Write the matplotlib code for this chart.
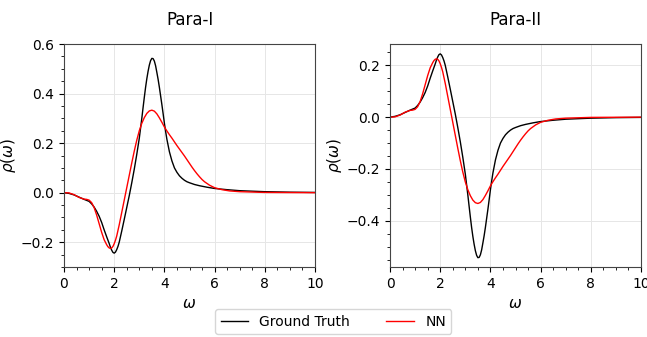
import matplotlib
matplotlib.use("Agg")
from matplotlib import pyplot as plt

# values
w_gt = [0.0, 0.2, 0.4, 0.6, 0.8, 1.0, 1.1, 1.2, 1.3, 1.4, 1.5, 1.6, 1.7, 1.8,
        1.85, 1.9, 1.95, 2.0, 2.05, 2.1, 2.15, 2.2, 2.3, 2.4, 2.5, 2.6, 2.7,
        2.8, 2.9, 3.0, 3.1, 3.15, 3.2, 3.25, 3.3, 3.35, 3.4, 3.45, 3.5, 3.55,
        3.6, 3.65, 3.7, 3.75, 3.8, 3.85, 3.9, 3.95, 4.0, 4.05, 4.1, 4.2, 4.3,
        4.4, 4.5, 4.6, 4.7, 4.8, 4.9, 5.0, 5.2, 5.4, 5.7, 6.0, 6.5, 7.0, 8.0,
        9.0, 10.0]
gt_1 = [0.0, -0.003, -0.009, -0.018, -0.027, -0.035, -0.045, -0.058, -0.075,
        -0.095, -0.12, -0.15, -0.178, -0.205, -0.22, -0.232, -0.241, -0.244,
        -0.24, -0.23, -0.217, -0.2, -0.155, -0.108, -0.06, -0.012, 0.04, 0.095,
        0.155, 0.22, 0.3, 0.343, 0.385, 0.425, 0.46, 0.49, 0.515, 0.533, 0.542,
        0.541, 0.531, 0.512, 0.485, 0.457, 0.425, 0.39, 0.355, 0.318, 0.28,
        0.246, 0.215, 0.165, 0.128, 0.1, 0.082, 0.068, 0.058, 0.05, 0.044,
        0.04, 0.033, 0.028, 0.022, 0.017, 0.012, 0.008, 0.004, 0.002, 0.001]
gt_2 = [0.0, 0.003, 0.009, 0.018, 0.027, 0.035, 0.045, 0.058, 0.075,
        0.095, 0.12, 0.15, 0.178, 0.205, 0.22, 0.232, 0.241, 0.244,
        0.24, 0.23, 0.217, 0.2, 0.155, 0.108, 0.06, 0.012, -0.04, -0.095,
        -0.155, -0.22, -0.3, -0.343, -0.385, -0.425, -0.46, -0.49, -0.515,
        -0.533, -0.542, -0.541, -0.531, -0.512, -0.485, -0.457, -0.425, -0.39,
        -0.355, -0.318, -0.28, -0.246, -0.215, -0.165, -0.128, -0.1, -0.082,
        -0.068, -0.058, -0.05, -0.044, -0.04, -0.033, -0.028, -0.022, -0.017,
        -0.012, -0.008, -0.004, -0.002, -0.001]

w_nn = [0.0, 0.2, 0.4, 0.6, 0.8, 0.9, 1.0, 1.1, 1.2, 1.3, 1.4, 1.5, 1.6, 1.7,
        1.75, 1.8, 1.85, 1.9, 1.95, 2.0, 2.05, 2.1, 2.2, 2.3, 2.4, 2.5, 2.6,
        2.7, 2.8, 2.9, 3.0, 3.1, 3.2, 3.3, 3.4, 3.5, 3.6, 3.7, 3.8, 3.9, 4.0,
        4.1, 4.2, 4.3, 4.4, 4.5, 4.6, 4.7, 4.8, 4.9, 5.0, 5.1, 5.2, 5.3, 5.4,
        5.5, 5.6, 5.8, 6.0, 6.3, 6.6, 7.0, 8.0, 10.0]
nn_1 = [0.0, -0.001, -0.008, -0.019, -0.026, -0.027, -0.03, -0.04, -0.06,
        -0.09, -0.125, -0.16, -0.19, -0.21, -0.218, -0.223, -0.225, -0.223,
        -0.217, -0.206, -0.192, -0.175, -0.13, -0.08, -0.03, 0.02, 0.07, 0.12,
        0.168, 0.212, 0.25, 0.28, 0.303, 0.32, 0.33, 0.333, 0.329, 0.318,
        0.302, 0.284, 0.265, 0.249, 0.234, 0.22, 0.205, 0.19, 0.176, 0.162,
        0.148, 0.133, 0.118, 0.103, 0.089, 0.076, 0.064, 0.053, 0.044, 0.03,
        0.02, 0.012, 0.007, 0.004, 0.001, 0.0]
nn_2 = [0.0, 0.001, 0.008, 0.019, 0.026, 0.027, 0.03, 0.04, 0.06,
        0.09, 0.125, 0.16, 0.19, 0.21, 0.218, 0.223, 0.225, 0.223,
        0.217, 0.206, 0.192, 0.175, 0.13, 0.08, 0.03, -0.02, -0.07, -0.12,
        -0.168, -0.212, -0.25, -0.28, -0.303, -0.32, -0.33, -0.333, -0.329,
        -0.318, -0.302, -0.284, -0.265, -0.249, -0.234, -0.22, -0.205, -0.19,
        -0.176, -0.162, -0.148, -0.133, -0.118, -0.103, -0.089, -0.076,
        -0.064, -0.053, -0.044, -0.03, -0.02, -0.012, -0.007, -0.004, -0.001,
        0.0]

titles = ["Para-I", "Para-II"]
ylims = [(-0.3, 0.6), (-0.578, 0.282)]

fig = plt.figure(figsize=(6.47, 3.37), dpi=100)
ax1 = fig.add_axes([0.0989, 0.2077, 0.388, 0.6617])
ax2 = fig.add_axes([0.6028, 0.2077, 0.388, 0.6617])

for ax, gt, nn, title, ylim in zip([ax1, ax2], [gt_1, gt_2], [nn_1, nn_2],
                                   titles, ylims):
    ax.plot(w_gt, gt, color="black", lw=1.0, label="Ground Truth")
    ax.plot(w_nn, nn, color="red", lw=1.0, label="NN")
    ax.set_xlim(0, 10)
    ax.set_ylim(*ylim)
    ax.set_title(title, fontsize=12, pad=14)
    ax.set_xlabel(r"$\omega$", fontsize=11)
    ax.set_ylabel(r"$\rho(\omega)$", fontsize=11)
    ax.xaxis.set_label_coords(0.5, -0.13)
    ax.yaxis.set_label_coords(-0.185, 0.5)
    ax.minorticks_on()
    ax.grid(True, which="major", color="#e6e6e6", lw=0.7)
    ax.tick_params(labelsize=10)
    for s in ax.spines.values():
        s.set_color("#444444")

fig.legend(*ax1.get_legend_handles_labels(), loc="lower center",
           bbox_to_anchor=(0.515, -0.012), ncol=2, fontsize=10,
           columnspacing=2.6, handlelength=2.0)
fig.savefig("out.png", dpi=100)
